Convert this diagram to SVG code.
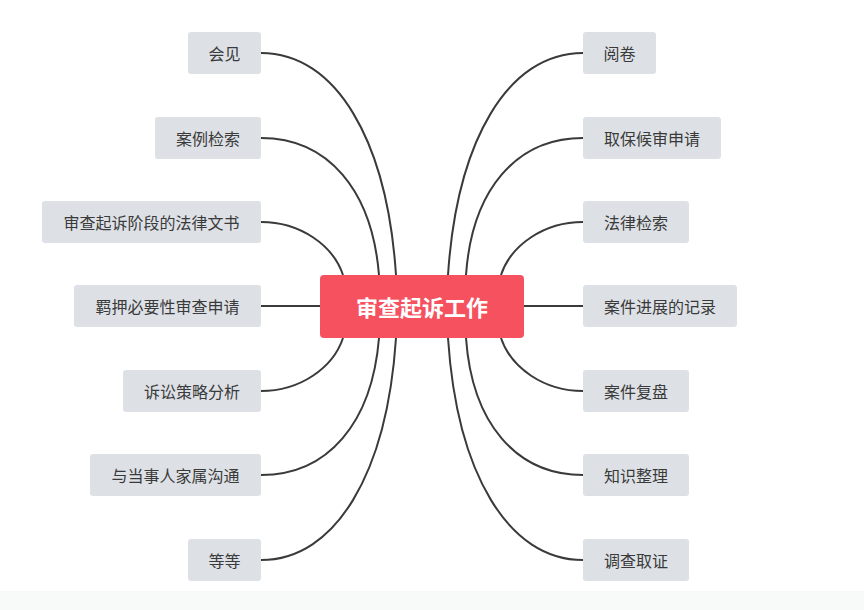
<svg xmlns="http://www.w3.org/2000/svg" width="864" height="610" viewBox="0 0 864 610">
<style>
.n rect{fill:#dde1e6;}
.n text{font-family:"Noto Sans CJK SC","Noto Sans",sans-serif;font-size:16px;fill:#3a3a3a;text-anchor:middle;dominant-baseline:central;}
.c path{fill:none;stroke:#3a3a3a;stroke-width:2;}
</style>
<rect width="864" height="610" fill="#fff"/>
<rect x="0" y="591" width="864" height="19" fill="#f8f9f9"/>
<g class="c">
<path d="M261,53 C336,53 387,140 396,275"/>
<path d="M261,138 C328,138 372,190 379,275"/>
<path d="M261,222 C300,222 333,245 343,275"/>
<path d="M261,306 L320,306"/>
<path d="M261,391 C300,391 333,368 343,338"/>
<path d="M261,475 C328,475 372,423 379,338"/>
<path d="M261,560 C336,560 387,473 396,338"/>
<path d="M583,53 C508,53 457,140 448,275"/>
<path d="M583,138 C516,138 472,190 466,275"/>
<path d="M583,222 C544,222 511,245 501,275"/>
<path d="M583,306 L524,306"/>
<path d="M583,391 C544,391 511,368 501,338"/>
<path d="M583,475 C516,475 472,423 466,338"/>
<path d="M583,560 C508,560 457,473 448,338"/>
</g>
<g id="center">
<rect x="320" y="275" width="204" height="63" rx="4" fill="#f5515f"/>
<text x="422" y="306" font-family="Noto Sans CJK SC,sans-serif" font-size="22" font-weight="bold" fill="#fff" text-anchor="middle" dominant-baseline="central">审查起诉工作</text>
</g>
<g id="l1" class="n"><rect x="188" y="32" width="73" height="42" rx="3"/><text x="224.5" y="53">会见</text></g>
<g id="l2" class="n"><rect x="155" y="117" width="106" height="42" rx="3"/><text x="208" y="138">案例检索</text></g>
<g id="l3" class="n"><rect x="42" y="201" width="219" height="42" rx="3"/><text x="151.5" y="222">审查起诉阶段的法律文书</text></g>
<g id="l4" class="n"><rect x="74" y="285" width="187" height="42" rx="3"/><text x="167.5" y="306">羁押必要性审查申请</text></g>
<g id="l5" class="n"><rect x="123" y="370" width="138" height="42" rx="3"/><text x="192" y="391">诉讼策略分析</text></g>
<g id="l6" class="n"><rect x="90" y="454" width="171" height="42" rx="3"/><text x="175.5" y="475">与当事人家属沟通</text></g>
<g id="l7" class="n"><rect x="188" y="539" width="73" height="42" rx="3"/><text x="224.5" y="560">等等</text></g>
<g id="r1" class="n"><rect x="583" y="32" width="73" height="42" rx="3"/><text x="619.5" y="53">阅卷</text></g>
<g id="r2" class="n"><rect x="583" y="117" width="138" height="42" rx="3"/><text x="652" y="138">取保候审申请</text></g>
<g id="r3" class="n"><rect x="583" y="201" width="106" height="42" rx="3"/><text x="636" y="222">法律检索</text></g>
<g id="r4" class="n"><rect x="583" y="285" width="154" height="42" rx="3"/><text x="660" y="306">案件进展的记录</text></g>
<g id="r5" class="n"><rect x="583" y="370" width="106" height="42" rx="3"/><text x="636" y="391">案件复盘</text></g>
<g id="r6" class="n"><rect x="583" y="454" width="106" height="42" rx="3"/><text x="636" y="475">知识整理</text></g>
<g id="r7" class="n"><rect x="583" y="539" width="106" height="42" rx="3"/><text x="636" y="560">调查取证</text></g>
</svg>
